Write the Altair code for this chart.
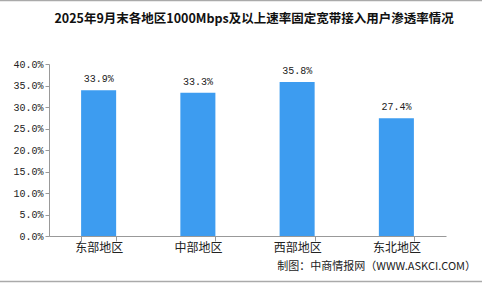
import altair as alt
import pandas as pd

regions = ["东部地区", "中部地区", "西部地区", "东北地区"]
rates = [33.9, 33.3, 35.8, 27.4]
y_ticks = [0, 5, 10, 15, 20, 25, 30, 35, 40]
title_text = "2025年9月末各地区1000Mbps及以上速率固定宽带接入用户渗透率情况"
source_text = "制图：中商情报网（WWW.ASKCI.COM）"

df = pd.DataFrame({"region": regions, "rate": [r / 100 for r in rates],
                   "label": [f"{r:.1f}%" for r in rates]})

W, H = 397, 172
PL, PT = 49, 64

x = alt.X("region:N", sort=regions, title=None,
          scale=alt.Scale(paddingInner=0.647, paddingOuter=0.3235),
          axis=alt.Axis(labelAngle=0, labelFont="Noto Sans CJK SC", labelFontSize=12,
                        labelColor="#222", labelPadding=1, tickBand="extent",
                        tickSize=5, tickColor="#999", domainColor="#999"))
y = alt.Y("rate:Q", title=None,
          scale=alt.Scale(domain=[0, 0.4]),
          axis=alt.Axis(format=".1%", values=[v / 100 for v in y_ticks], grid=False,
                        labelOverlap=False,
                        labelFont="Liberation Mono", labelFontSize=10, labelColor="#222",
                        tickSize=4, tickColor="#999", domainColor="#999", labelPadding=2))

base = alt.Chart(df).encode(x=x, y=y)
bars = base.mark_bar(color="#3D9CF0")
labels = base.mark_text(dy=-11, font="Liberation Mono", fontSize=10, color="#222").encode(
    text="label:N")

title = alt.Chart(pd.DataFrame({"t": [title_text]})).mark_text(
    font="Noto Sans CJK SC", fontWeight="bold", fontSize=12.5, color="#111", align="center",
    baseline="middle").encode(x=alt.value(205), y=alt.value(19 - PT), text="t:N")
source = alt.Chart(pd.DataFrame({"t": [source_text]})).mark_text(
    font="Noto Sans CJK SC", fontSize=11, color="#222", align="right",
    baseline="middle").encode(x=alt.value(476 - PL), y=alt.value(267 - PT), text="t:N")
top_line = alt.Chart(pd.DataFrame({"a": [0]})).mark_rule(color="#aaa", strokeWidth=1.5).encode(
    x=alt.value(-PL), x2=alt.value(482 - PL), y=alt.value(0.5 - PT))
bot_line = alt.Chart(pd.DataFrame({"a": [0]})).mark_rule(color="#aaa", strokeWidth=1.5).encode(
    x=alt.value(-PL), x2=alt.value(482 - PL), y=alt.value(281.5 - PT))

chart = alt.layer(bars, labels, title, source, top_line, bot_line).properties(
    width=W, height=H, autosize=alt.AutoSizeParams(type="none"),
    padding={"left": PL, "top": PT, "right": 482 - PL - W, "bottom": 284 - PT - H},
    background="white"
).configure_view(stroke=None)

chart.save("out.html", embed_options={"renderer": "svg", "actions": False})
